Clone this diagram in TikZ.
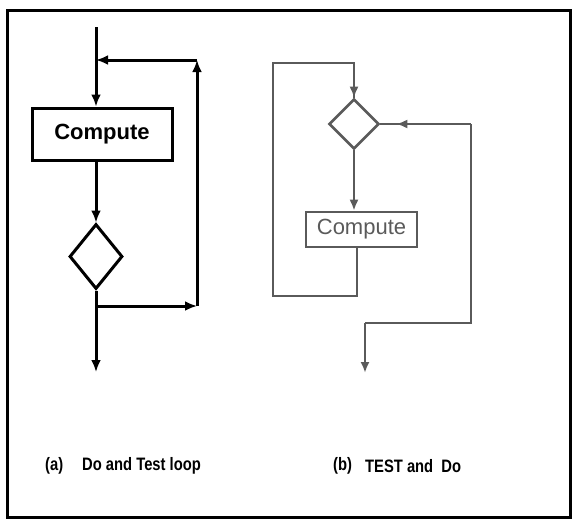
\documentclass[tikz,border=0pt]{standalone}
\usepackage{fontspec}
\setmainfont{Liberation Sans}
\newfontfamily\narrowfont[FakeStretch=0.82]{Liberation Sans}
\usetikzlibrary{shapes.geometric,arrows.meta,calc}
\definecolor{lgray}{HTML}{5A5A5A}
\tikzset{
  blk/.style={line width=3pt, black},
  arr/.style={blk, -{Latex[length=12pt,width=10pt]}},
  gln/.style={line width=2.6pt, lgray},
  garr/.style={gln, -{Latex[length=11pt,width=9pt]}},
  boxa/.style={draw, line width=3pt, minimum width=140pt, minimum height=52pt, inner sep=0pt, font=\bfseries\fontsize{22}{24}\selectfont},
  boxb/.style={draw=lgray, line width=2.6pt, minimum width=111pt, minimum height=35pt, inner sep=0pt, text=lgray, font=\fontsize{22}{24}\selectfont},
  dia/.style={draw, diamond, inner sep=0pt},
  lbl/.style={anchor=west, inner sep=0pt, font=\narrowfont\bfseries\fontsize{18}{20}\selectfont}
}
\begin{document}
\begin{tikzpicture}[x=1pt,y=-1pt]
\useasboundingbox (0,0) rectangle (574,520);
\draw[line width=3pt] (7,10) rectangle (570,517);

% ---------- (a) Do and Test loop ----------
\coordinate (a0) at (96,27);
\coordinate (aj) at (96,60);
\coordinate (ar) at (197,60);
\coordinate (ab) at (96,306);
\coordinate (abr) at (197,306);
\coordinate (aend) at (96,372);
\node[boxa] (comp1) at (102,134) {Compute};
\node[dia, line width=3pt, minimum width=53pt, minimum height=65pt] (d1) at (96,256.5) {};
\draw[arr] (a0) -- (comp1.north -| a0);
\draw[arr] (comp1.south -| a0) -- (d1.north);
\draw[arr] (d1.south) -- (aend);
\draw[arr] (ab) -- (abr);
\draw[arr] (abr) -- (ar);
\draw[arr] (ar) -- (aj);

% ---------- (b) TEST and Do ----------
\node[dia, draw=lgray, line width=2.6pt, minimum width=50pt, minimum height=50pt] (d2) at (354,124) {};
\node[boxb] (comp2) at (361.5,229.5) {Compute};
\coordinate (bl1) at (357,296);
\coordinate (bl2) at (273,296);
\coordinate (bl3) at (273,63);
\coordinate (bl4) at (354,63);
\coordinate (br1) at (471,124);
\coordinate (br2) at (471,323);
\coordinate (br3) at (365,323);
\coordinate (bend) at (365,373);
\draw[garr] (d2.south) -- (comp2.north -| d2.south);
\draw[gln] (comp2.south -| bl1) -- (bl1) -- (bl2) -- (bl3) -- (bl4) -- (d2.north);
\draw[garr] (bl4) -- (d2.north);
\draw[gln] (br1) -- (d2.east);
\draw[garr] (br1) -- ($(d2.east)+(16,0)$);
\draw[gln] (br1) -- (br2) -- (br3);
\draw[garr] (br3) -- (bend);

% ---------- labels ----------
\node[lbl] (la) at (45,466) {(a)};
\node[lbl] (lat) at (82,466) {Do and Test loop};
\node[lbl] (lb) at (333,466) {(b)};
\node[lbl] (lbt) at (365,466) {TEST and\ \ Do};
\end{tikzpicture}
\end{document}
